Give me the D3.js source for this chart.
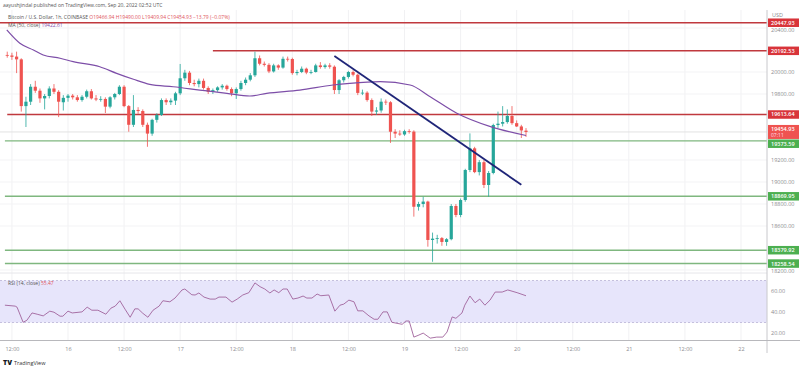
<!DOCTYPE html>
<html>
<head>
<meta charset="utf-8">
<script src="https://cdn.jsdelivr.net/npm/d3@7"></script>
<style>
html, body { margin: 0; padding: 0; background: #fff; }
svg { display: block; font-family: "Open Sans", sans-serif; }
</style>
</head>
<body>
<div id="chart"></div>
<script>
// hours counted from Sep 15 00:00, first candle at 11:00
const FIRST_HOUR = 11;
const opens  = [20155,20150,20140,20115,19690,19730,19866,19830,19760,19782,19850,19820,19725,19765,19785,19770,19745,19775,19825,19760,19750,19755,19685,19770,19800,19866,19690,19520,19655,19645,19520,19440,19565,19610,19745,19725,19740,19806,19943,19994,19900,19890,19920,19855,19820,19835,19860,19875,19845,19806,19845,19900,19930,19970,20125,20075,20065,20005,20060,20040,20120,20118,19990,20000,20030,19995,20000,20060,20045,20060,20048,19836,19925,19955,20000,19975,19810,19812,19745,19640,19650,19730,19725,19457,19440,19432,19462,19458,18775,18800,18822,18473,18485,18490,18455,18480,18782,18700,18836,19109,19306,19090,19180,18973,19082,19518,19530,19545,19600,19535,19505,19466.94];
const highs  = [20185,20175,20185,20125,19775,19890,19920,19850,19800,19870,19890,19835,19790,19800,19800,19790,19790,19840,19845,19790,19780,19770,19780,19810,19880,19880,19700,19790,19680,19660,19540,19575,19625,19760,19760,19760,19820,20073,20020,20010,19930,19940,19940,19870,19850,19870,19890,19885,19860,19860,19920,19950,19990,20185,20150,20095,20080,20075,20070,20140,20140,20130,20020,20050,20040,20020,20075,20090,20075,20080,20060,19935,19965,20010,20015,19985,19840,19825,19760,19680,19760,19750,19735,19480,19470,19475,19480,19470,18820,18866,18830,18540,18520,18500,18490,18800,18800,18850,19120,19442,19320,19200,19200,19100,19530,19640,19690,19660,19690,19560,19520,19490.00];
const lows   = [20130,20110,19990,19640,19500,19700,19810,19720,19660,19760,19800,19590,19650,19730,19750,19730,19730,19760,19750,19735,19730,19627,19670,19750,19790,19680,19457,19500,19620,19500,19320,19420,19540,19600,19700,19700,19700,19790,19920,19880,19870,19860,19840,19800,19800,19820,19840,19830,19780,19755,19830,19880,19915,19955,20060,20050,19990,19995,20020,20030,20095,19975,19970,19990,19980,19980,19995,20030,20030,20030,19800,19800,19905,19940,19960,19790,19790,19730,19600,19610,19630,19700,19355,19400,19420,19420,19440,18685,18740,18770,18412,18275,18440,18420,18420,18470,18680,18680,18820,19090,19080,19060,18945,18866,19070,19490,19505,19530,19520,19500,19400,19409.94];
const closes = [20150,20138,20115,19690,19730,19866,19830,19760,19782,19850,19820,19730,19765,19785,19770,19745,19775,19825,19760,19750,19755,19685,19770,19800,19866,19690,19520,19655,19645,19520,19440,19565,19610,19745,19725,19740,19806,19943,19994,19900,19890,19920,19855,19820,19835,19860,19875,19845,19806,19845,19900,19930,19970,20125,20075,20065,20005,20060,20040,20120,20118,19990,20000,20030,19995,20000,20060,20045,20060,20048,19836,19925,19955,20000,19975,19810,19812,19745,19640,19650,19730,19725,19457,19440,19432,19462,19458,18775,18800,18822,18473,18485,18490,18455,18480,18782,18700,18836,19109,19306,19090,19180,18973,19082,19518,19530,19545,19600,19535,19505,19468.72,19454.93];

// MA(50) line: [hour, price]
const maPoints = [[10.9,20382],[13.7,20261],[16.6,20200],[18.7,20155],[22.3,20125],[25.1,20094],[30.8,20048],[34.4,19988],[38,19934],[41.5,19888],[46.5,19866],[52.2,19836],[58,19806],[62.9,19782],[66.5,19806],[73.6,19836],[80.7,19882],[84.3,19897],[90.8,19912],[97.2,19882],[101.5,19775],[107.2,19625],[114.4,19503],[122,19422.61]];

// RSI(14) line: [hour, value]
const rsiPoints = [[10.5,46.5],[12.7,45.6],[13.1,44.6],[14.4,30.2],[15.2,32.1],[16.3,39.1],[17.4,37.9],[18.7,36.3],[20.1,40.8],[21,39.8],[22.3,36],[22.9,36],[24,40.8],[24.9,39.1],[27,40.1],[28.1,44.6],[29.1,41.7],[30.4,41.7],[32.1,37.9],[33.2,43.7],[34.1,45.6],[35.1,50.7],[36.2,42.7],[37.3,35],[38.3,43],[39,43],[40,38.8],[41.1,35],[42.2,41.7],[43.5,45.6],[44.3,50.7],[45.8,49.7],[46.9,53.3],[48.4,61],[49,61.9],[50.5,56.4],[51.2,56.2],[52,58.1],[53.1,54.2],[54.4,52.3],[55.5,52.3],[56.3,54.2],[57.8,54.2],[59.1,49.4],[60.2,52.3],[61.4,56.2],[62.7,58.4],[64,67.7],[65.1,64.1],[66.1,61.9],[67.2,58.1],[68.1,61],[69.1,58.4],[70,61.9],[70.9,61.9],[72.1,52.3],[73.2,53.3],[74.3,55.2],[75.1,53.3],[76.2,53.3],[77.3,57.1],[78.1,55.5],[79.8,56.2],[81.1,40.8],[82.2,46.5],[83,47.5],[84.1,51.3],[85.2,49.7],[86,41.1],[87.1,41.1],[88.4,36.3],[89.5,33.1],[90.3,33.1],[91.4,40.1],[92.3,40.1],[93.3,30.2],[94.4,29.2],[95.5,28.3],[96.3,31.4],[97,31.4],[98,16.1],[98.9,17.7],[100,19.9],[101.5,15.1],[102.9,16.1],[104.2,16.1],[105.1,20.9],[106.2,35.3],[107,34],[108.3,39.1],[108.9,46.5],[110,55.2],[111.1,48.8],[112.1,52.3],[113.2,46.5],[114.3,51.3],[115.4,59],[116.9,59],[118.1,61],[120.1,58.4],[122,55.47]];

// drawn levels: [price, start hour]
const resistanceLevels = [[20447.93, 8], [20192.53, 55], [19613.64, 11]];
const supportLevels = [[19373.59, 10.5], [18869.95, 10.5], [18379.92, 10.5], [18258.54, 10.5]];

// trend line: [hour, price]
const trendPoints = [[81, 20145], [121, 18975]];

const priceTicks = [20400, 20000, 19800, 19200, 19000, 18800, 18600, 18200];
const rsiTicks = [60, 40, 20];
const timeTicks = [12, 24, 36, 48, 60, 72, 84, 96, 108, 120, 132, 144, 156, 168];
const timeLabels = ['12:00','16','12:00','17','12:00','18','12:00','19','12:00','20','12:00','21','12:00','22'];

const LAST_PRICE = 19454.93;
const UP = '#26a69a', DOWN = '#ef5350';
const RED_LINE = '#c0393e', GREEN_LINE = '#7fb77f';
const RED_TAG = '#d8343a', GREEN_TAG = '#4caf50';
const AXIS_X = 767;
const TAG_H = 8.5;

const svg = d3.select('#chart').append('svg')
  .attr('width', 800).attr('height', 369);

const x = d3.scaleLinear().domain([24, 168]).range([68, 741]);
const y = d3.scaleLinear().domain([18200, 20000]).range([270, 72]);
const yR = d3.scaleLinear().domain([20, 60]).range([333, 291]);

const candles = closes.map(function(c, i) {
  return { t: FIRST_HOUR + i, o: opens[i], h: highs[i], l: lows[i], c: c };
});

// clip for main panel
svg.append('clipPath').attr('id', 'mainClip')
  .append('rect').attr('x', 0).attr('y', 10).attr('width', AXIS_X).attr('height', 262);

// grid
const grid = svg.append('g');
grid.selectAll('line.v').data(timeTicks).enter().append('line')
  .attr('x1', function(d) { return x(d); }).attr('x2', function(d) { return x(d); })
  .attr('y1', 10).attr('y2', 340)
  .style('stroke', '#f1f1f3').style('stroke-width', 1);
grid.selectAll('line.h').data(priceTicks).enter().append('line')
  .attr('x1', 0).attr('x2', AXIS_X)
  .attr('y1', function(d) { return y(d); }).attr('y2', function(d) { return y(d); })
  .style('stroke', '#f3f3f5').style('stroke-width', 1);

// RSI panel band
svg.append('rect')
  .attr('x', 0).attr('width', AXIS_X)
  .attr('y', yR(70)).attr('height', yR(30) - yR(70))
  .style('fill', '#e7e5fb');
[70, 30].forEach(function(v) {
  svg.append('line')
    .attr('x1', 0).attr('x2', AXIS_X).attr('y1', yR(v)).attr('y2', yR(v))
    .style('stroke', '#b9b3d6').style('stroke-width', 0.8).style('stroke-dasharray', '2,2');
});
svg.append('line').attr('x1', 0).attr('x2', AXIS_X).attr('y1', 273).attr('y2', 273)
  .style('stroke', '#e6e6ea').style('stroke-width', 1);

const main = svg.append('g').attr('clip-path', 'url(#mainClip)');

// last price line
main.append('line').attr('x1', 0).attr('x2', AXIS_X)
  .attr('y1', y(LAST_PRICE)).attr('y2', y(LAST_PRICE))
  .style('stroke', '#e2e2e2').style('stroke-width', 1);

// horizontal levels
main.selectAll('line.res').data(resistanceLevels).enter().append('line')
  .attr('x1', function(d) { return x(d[1]); }).attr('x2', AXIS_X)
  .attr('y1', function(d) { return y(d[0]); }).attr('y2', function(d) { return y(d[0]); })
  .style('stroke', RED_LINE).style('stroke-width', 1.4);
main.selectAll('line.sup').data(supportLevels).enter().append('line')
  .attr('x1', function(d) { return x(d[1]); }).attr('x2', AXIS_X)
  .attr('y1', function(d) { return y(d[0]); }).attr('y2', function(d) { return y(d[0]); })
  .style('stroke', GREEN_LINE).style('stroke-width', 1.4);

// candles
const cg = main.selectAll('g.candle').data(candles).enter().append('g');
cg.append('line')
  .attr('x1', function(d) { return x(d.t); }).attr('x2', function(d) { return x(d.t); })
  .attr('y1', function(d) { return y(d.h); }).attr('y2', function(d) { return y(d.l); })
  .style('stroke', function(d) { return d.c >= d.o ? UP : DOWN; })
  .style('stroke-width', 0.8);
cg.append('rect')
  .attr('x', function(d) { return x(d.t) - 1.6; })
  .attr('width', 3.2)
  .attr('y', function(d) { return y(Math.max(d.o, d.c)); })
  .attr('height', function(d) { return Math.max(0.8, Math.abs(y(d.o) - y(d.c))); })
  .style('fill', function(d) { return d.c >= d.o ? UP : DOWN; });

// moving average
const maLine = d3.line()
  .x(function(d) { return x(d[0]); })
  .y(function(d) { return y(d[1]); })
  .curve(d3.curveMonotoneX);
main.append('path').attr('d', maLine(maPoints))
  .style('fill', 'none').style('stroke', '#7d4ea8').style('stroke-width', 1.2);

// trend line
main.append('line')
  .attr('x1', x(trendPoints[0][0])).attr('y1', y(trendPoints[0][1]))
  .attr('x2', x(trendPoints[1][0])).attr('y2', y(trendPoints[1][1]))
  .style('stroke', '#1f2578').style('stroke-width', 1.8);

// RSI
const rsiLine = d3.line()
  .x(function(d) { return x(d[0]); })
  .y(function(d) { return yR(d[1]); });
svg.append('path').attr('d', rsiLine(rsiPoints))
  .style('fill', 'none').style('stroke', '#a0639c').style('stroke-width', 0.9);

// right axis + time axis frame
svg.append('line').attr('x1', AXIS_X).attr('x2', AXIS_X).attr('y1', 10).attr('y2', 353)
  .style('stroke', '#c8c8cc').style('stroke-width', 1);
svg.append('line').attr('x1', 0).attr('x2', 800).attr('y1', 340.5).attr('y2', 340.5)
  .style('stroke', '#b8b8bc').style('stroke-width', 1);

// tag positions, pushed apart the way the price scale does it
const lastTop = y(LAST_PRICE) - 7, lastBottom = y(LAST_PRICE) + 7;
const tags = [];
resistanceLevels.forEach(function(d) { tags.push({ v: d[0], color: RED_TAG, cy: y(d[0]) }); });
supportLevels.forEach(function(d) { tags.push({ v: d[0], color: GREEN_TAG, cy: y(d[0]) }); });
tags.forEach(function(t) {
  if (t.cy - TAG_H / 2 < lastBottom && t.cy + TAG_H / 2 > lastTop) {
    t.cy = t.cy > y(LAST_PRICE) ? lastBottom + TAG_H / 2 + 0.5 : lastTop - TAG_H / 2 - 0.5;
  }
});

const priceAxis = d3.axisRight(y).tickValues(priceTicks)
  .tickFormat(d3.format('.2f')).tickSize(0);
const pa = svg.append('g').attr('transform', 'translate(' + (AXIS_X + 4) + ',0)').call(priceAxis);
pa.select('.domain').remove();
pa.selectAll('text').attr('x', 0).style('font-size', '5.5px').style('fill', '#8a8a8e')
  .style('font-family', '"Open Sans", sans-serif');
// keep tick labels just clear of a tag that sits on them
pa.selectAll('.tick').each(function(v) {
  const ty = y(v);
  tags.forEach(function(t) {
    const gap = ty - t.cy;
    if (Math.abs(gap) < TAG_H / 2 + 3) {
      d3.select(this).select('text').attr('dy', (0.32 + ((gap >= 0 ? 1 : -1) * (TAG_H / 2 + 3.2) - gap) / 5.5) + 'em');
    }
  }, this);
});

const rsiAxis = d3.axisRight(yR).tickValues(rsiTicks)
  .tickFormat(d3.format('.2f')).tickSize(0);
const ra = svg.append('g').attr('transform', 'translate(' + (AXIS_X + 4) + ',0)').call(rsiAxis);
ra.select('.domain').remove();
ra.selectAll('text').attr('x', 0).style('font-size', '5.5px').style('fill', '#8a8a8e')
  .style('font-family', '"Open Sans", sans-serif');

const timeAxis = d3.axisBottom(x).tickValues(timeTicks)
  .tickFormat(function(d, i) { return timeLabels[i]; }).tickSize(0);
const ta = svg.append('g').attr('transform', 'translate(0,344)').call(timeAxis);
ta.select('.domain').remove();
ta.selectAll('text').style('font-size', '5.5px').style('fill', '#8a8a8e')
  .style('font-family', '"Open Sans", sans-serif');

svg.append('text').attr('x', AXIS_X + 5).attr('y', 17).text('USD')
  .style('font-size', '5.5px').style('fill', '#8a8a8e');

// price tags
tags.forEach(function(t) {
  svg.append('rect').attr('x', AXIS_X + 1).attr('y', t.cy - TAG_H / 2)
    .attr('width', 31).attr('height', TAG_H).style('fill', t.color);
  svg.append('text').attr('x', AXIS_X + 4).attr('y', t.cy + 2)
    .text(d3.format('.2f')(t.v)).style('font-size', '5.5px').style('fill', '#fff').style('font-weight', 600);
});

// current price tag with countdown
const lp = svg.append('g');
lp.append('rect').attr('x', AXIS_X + 1).attr('y', lastTop)
  .attr('width', 31).attr('height', lastBottom - lastTop).style('fill', '#ef5350');
lp.append('text').attr('x', AXIS_X + 4).attr('y', lastTop + 5.8)
  .text(d3.format('.2f')(LAST_PRICE)).style('font-size', '5.5px').style('fill', '#fff').style('font-weight', 600);
lp.append('text').attr('x', AXIS_X + 4).attr('y', lastTop + 12)
  .text('07:11').style('font-size', '5px').style('fill', '#fde');

// header texts
svg.append('text').attr('x', 3).attr('y', 7)
  .text('aayushjindal published on TradingView.com, Sep 20, 2022 02:52 UTC')
  .style('font-size', '5px').style('fill', '#555');
const h2 = svg.append('text').attr('x', 8).attr('y', 18.5).style('font-size', '5px').style('fill', '#555');
h2.append('tspan').text('Bitcoin / U.S. Dollar, 1h, COINBASE  ');
h2.append('tspan').style('fill', '#e0545b')
  .text('O19466.94  H19490.00  L19409.94  C19454.93  \u221213.79 (\u22120.07%)');
const h3 = svg.append('text').attr('x', 8).attr('y', 27).style('font-size', '5px').style('fill', '#555');
h3.append('tspan').text('MA (50, close)  ');
h3.append('tspan').style('fill', '#7d4ea8').text('19422.61');

const h4 = svg.append('text').attr('x', 8).attr('y', 285).style('font-size', '5px').style('fill', '#555');
h4.append('tspan').text('RSI (14, close)  ');
h4.append('tspan').style('fill', '#e0545b').text('55.47');

// footer
svg.append('text').attr('x', 3).attr('y', 364.5).text('TV')
  .style('font-size', '7px').style('font-weight', 900).style('fill', '#131722');
svg.append('text').attr('x', 14).attr('y', 364.5).text('TradingView')
  .style('font-size', '5.5px').style('fill', '#333');
</script>
</body>
</html>
